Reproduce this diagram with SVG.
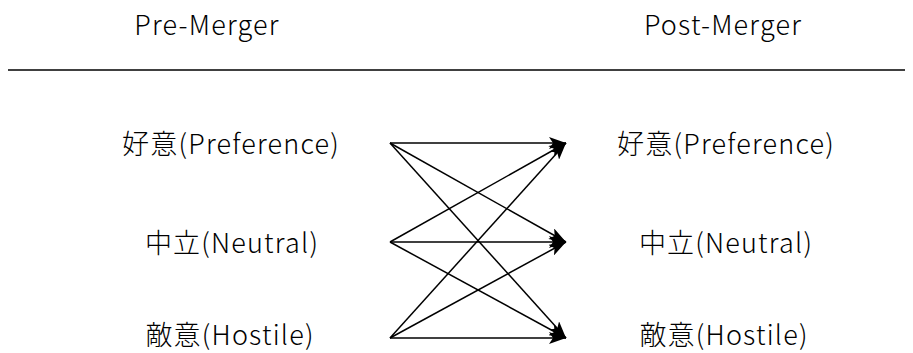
<svg xmlns="http://www.w3.org/2000/svg" width="913" height="353" viewBox="0 0 913 353">
<style>
text{font-family:"Noto Sans CJK JP","Noto Sans",sans-serif;font-weight:300;fill:#000;text-anchor:middle;dominant-baseline:central;font-size:27px;letter-spacing:1.2px}
.c line{stroke:#000;stroke-width:1.5;marker-end:url(#ah)}
</style>
<defs>
<marker id="ah" markerUnits="userSpaceOnUse" markerWidth="18" markerHeight="12" refX="17" refY="6" orient="auto">
<path d="M0,0 L17,6 L0,12 L4,6 z" fill="#000"/>
</marker>
</defs>
<g id="header">
<text x="207" y="23">Pre-Merger</text>
<text x="723" y="23">Post-Merger</text>
<line x1="8" y1="70" x2="905" y2="70" stroke="#000" stroke-width="1.5"/>
</g>
<g id="pre-pref"><text x="231" y="142">好意(Preference)</text></g>
<g id="pre-neutral"><text x="232" y="241">中立(Neutral)</text></g>
<g id="pre-hostile"><text x="230" y="333">敵意(Hostile)</text></g>
<g id="post-pref"><text x="726" y="142">好意(Preference)</text></g>
<g id="post-neutral"><text x="726" y="241">中立(Neutral)</text></g>
<g id="post-hostile"><text x="724" y="333">敵意(Hostile)</text></g>
<g class="c" id="connectors">
<line x1="390" y1="143" x2="566" y2="143"/>
<line x1="390" y1="143" x2="566" y2="242"/>
<line x1="390" y1="143" x2="566" y2="338"/>
<line x1="390" y1="242" x2="566" y2="143"/>
<line x1="390" y1="242" x2="566" y2="242"/>
<line x1="390" y1="242" x2="566" y2="338"/>
<line x1="390" y1="338" x2="566" y2="143"/>
<line x1="390" y1="338" x2="566" y2="242"/>
<line x1="390" y1="338" x2="566" y2="338"/>
</g>
</svg>
